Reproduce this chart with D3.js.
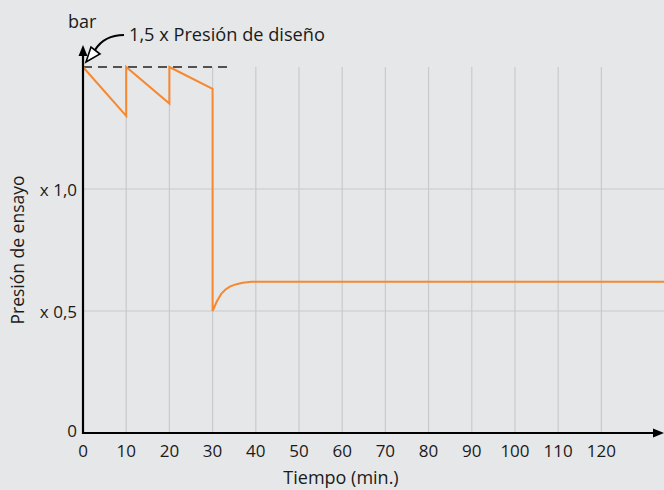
<!DOCTYPE html>
<html><head><meta charset="utf-8">
<script src="https://cdn.jsdelivr.net/npm/d3@7"></script>
<style>
html,body{margin:0;padding:0;background:#e6e7e8;}
svg{display:block;font-family:"Open Sans",sans-serif;}
</style></head>
<body>
<svg id="chart" width="664" height="490"></svg>
<script>
const xTicks = [0,10,20,30,40,50,60,70,80,90,100,110,120];
const yTicks = [0, 0.5, 1.0];
const yTickLabels = ["0", "x 0,5", "x 1,0"];
const time =     [0,   10,   10,  20,   20,  30,   30,  31,   32,   33,    34,   35,    36,    37,    38,    39,   40,   134.5];
const pressure = [1.5, 1.30, 1.5, 1.35, 1.5, 1.41, 0.5, 0.54, 0.57, 0.588, 0.60, 0.607, 0.612, 0.616, 0.618, 0.62, 0.62, 0.62];
const designLevel = 1.5;
const dashedEnd = 34;
const annotation = "1,5 x Presión de diseño";

const svg = d3.select("#chart");
const x = d3.scaleLinear().domain([0, 134.5]).range([83, 664]);
const y = d3.scaleLinear().domain([0, 1.5]).range([433, 67]);
const txt = "#1a1a1a";

// grid
svg.append("g").selectAll("line").data(xTicks.filter(d=>d>0)).join("line")
  .attr("x1", d=>x(d)).attr("x2", d=>x(d)).attr("y1", y(1.5)).attr("y2", y(0))
  .attr("stroke", "#c9cacc").attr("stroke-width", 1.2);
svg.append("g").selectAll("line").data(yTicks.filter(d=>d>0)).join("line")
  .attr("x1", x(0)).attr("x2", 664).attr("y1", d=>y(d)).attr("y2", d=>y(d))
  .attr("stroke", "#c9cacc").attr("stroke-width", 1.2);

// dashed design line
svg.append("line").attr("x1", x(0)).attr("x2", x(dashedEnd))
  .attr("y1", y(designLevel)).attr("y2", y(designLevel))
  .attr("stroke", "#222").attr("stroke-width", 1.3).attr("stroke-dasharray", "9,6");

// data line
const line = d3.line().x((d,i)=>x(time[i])).y((d,i)=>y(pressure[i])).curve(d3.curveLinear);
svg.append("path").attr("d", line(time)).attr("fill","none")
  .attr("stroke","#f7882f").attr("stroke-width",2).attr("stroke-linejoin","miter");

// axes
svg.append("line").attr("x1", x(0)).attr("x2", x(0)).attr("y1", y(0)+1).attr("y2", 54)
  .attr("stroke","#000").attr("stroke-width",2.2);
svg.append("path").attr("d", `M${x(0)-4.5},56 L${x(0)},45 L${x(0)+4.5},56 Z`).attr("fill","#000");
svg.append("line").attr("x1", x(0)-1).attr("x2", 655).attr("y1", y(0)).attr("y2", y(0))
  .attr("stroke","#000").attr("stroke-width",2.2);
svg.append("path").attr("d", `M653,${y(0)-4.5} L664,${y(0)} L653,${y(0)+4.5} Z`).attr("fill","#000");

// tick labels
svg.append("g").selectAll("text").data(xTicks).join("text")
  .attr("x", d=>x(d)).attr("y", 457).attr("text-anchor","middle")
  .attr("font-size", 17).attr("fill",txt).text(d=>d);
svg.append("g").selectAll("text").data(yTicks).join("text")
  .attr("x", 77).attr("y", (d)=>y(d) + (d===0?4:7)).attr("text-anchor","end")
  .attr("font-size", 17).attr("fill",txt).text((d,i)=>yTickLabels[i]);

// titles
svg.append("text").attr("x", 341).attr("y", 484).attr("text-anchor","middle")
  .attr("font-size", 18).attr("fill",txt).text("Tiempo (min.)");
svg.append("text").attr("transform","translate(24,250) rotate(-90)").attr("text-anchor","middle")
  .attr("font-size", 17.5).attr("fill",txt).text("Presión de ensayo");
svg.append("text").attr("x", 68).attr("y", 28)
  .attr("font-size", 18).attr("fill",txt).text("bar");
svg.append("text").attr("x", 129).attr("y", 41)
  .attr("font-size", 18.2).attr("fill",txt).text(annotation);

// annotation arrow
svg.append("path").attr("d", "M124,35 C108,35 100,42 95,50")
  .attr("fill","none").attr("stroke","#000").attr("stroke-width",2.2);
svg.append("path").attr("d", "M86,62 L91,47 L100,54 Z")
  .attr("fill","#fff").attr("stroke","#000").attr("stroke-width",1.6).attr("stroke-linejoin","miter");
</script>
</body></html>
